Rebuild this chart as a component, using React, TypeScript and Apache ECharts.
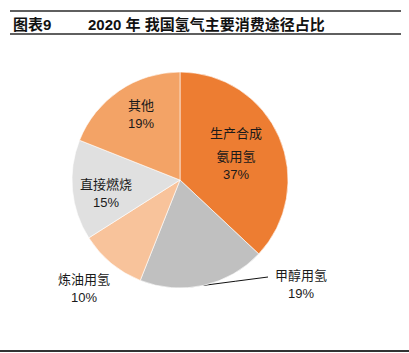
import React, { useEffect, useRef } from "react";
import * as echarts from "echarts";

const categories = ["生产合成氨用氢", "甲醇用氢", "炼油用氢", "直接燃烧", "其他"];
const values = [37, 19, 10, 15, 19];
const colors = ["#ED7D32", "#C0C0C0", "#F8C39B", "#E0E0E0", "#F3A366"];
const titleLeft = "图表9";
const titleRight = "2020 年 我国氢气主要消费途径占比";

// label block centres (text placement only)
const labelSpots: [number, number][] = [
  [236, 151],
  [301, 284],
  [84, 288],
  [106, 193],
  [141, 114],
];

const FONT = '"Liberation Sans", "Noto Sans CJK SC", sans-serif';

export default function App() {
  const ref = useRef<HTMLDivElement>(null);
  useEffect(() => {
    if (!ref.current) return;
    const chart = echarts.init(ref.current, null, { renderer: "svg" });
    chart.setOption({
      animation: false,
      backgroundColor: "#ffffff",
      graphic: [
        { type: "rect", shape: { x: 10, y: 10, width: 391, height: 2 }, style: { fill: "#5f5f5f" } },
        { type: "rect", shape: { x: 10, y: 33, width: 391, height: 2 }, style: { fill: "#5f5f5f" } },
        { type: "rect", shape: { x: 0, y: 350, width: 409, height: 2 }, style: { fill: "#333333" } },
        {
          type: "text",
          x: 13,
          y: 24,
          style: {
            text: titleLeft,
            font: `bold 15px ${FONT}`,
            fill: "#111",
            verticalAlign: "middle",
          },
        },
        {
          type: "text",
          x: 88,
          y: 24,
          style: {
            text: titleRight,
            font: `bold 15px ${FONT}`,
            fill: "#111",
            verticalAlign: "middle",
          },
        },
      ],
      series: [
        {
          type: "pie",
          center: [180, 180],
          radius: [0, 108],
          startAngle: 90,
          clockwise: true,
          avoidLabelOverlap: false,
          itemStyle: { borderColor: "#ffffff", borderWidth: 0.6 },
          label: {
            show: true,
            position: "outside",
            color: "#1a1a1a",
            fontFamily: FONT,
            fontSize: 13,
            lineHeight: 18,
            formatter: (p: any) => {
              if (p.dataIndex === 0) {
                return "{a|生产合成}\n{b|氨用氢}\n{b|" + p.value + "%}";
              }
              return "{b|" + p.name + "}\n{b|" + p.value + "%}";
            },
            rich: {
              a: { fontSize: 13, lineHeight: 28, fontFamily: FONT, color: "#1a1a1a" },
              b: { fontSize: 13, lineHeight: 18, fontFamily: FONT, color: "#1a1a1a" },
            },
          },
          labelLine: { show: false, lineStyle: { color: "#111", width: 1 } },
          labelLayout: (params: any) => {
            const i = params.dataIndex;
            const [x, y] = labelSpots[i];
            const out: any = { x, y, align: "center", verticalAlign: "middle" };
            if (i === 1 && params.labelLinePoints) {
              const p0 = params.labelLinePoints[0];
              const end = [268, 277];
              out.labelLinePoints = [p0, [(p0[0] + end[0]) / 2, (p0[1] + end[1]) / 2], end];
            }
            return out;
          },
          data: categories.map((name, i) => ({
            name,
            value: values[i],
            itemStyle: { color: colors[i] },
            labelLine: { show: i === 1, length: 10, length2: 40 },
          })),
        },
      ],
    });
    return () => chart.dispose();
  }, []);
  return (
    <div
      ref={ref}
      style={{ position: "fixed", left: 0, top: 0, width: 409, height: 353 }}
    />
  );
}
